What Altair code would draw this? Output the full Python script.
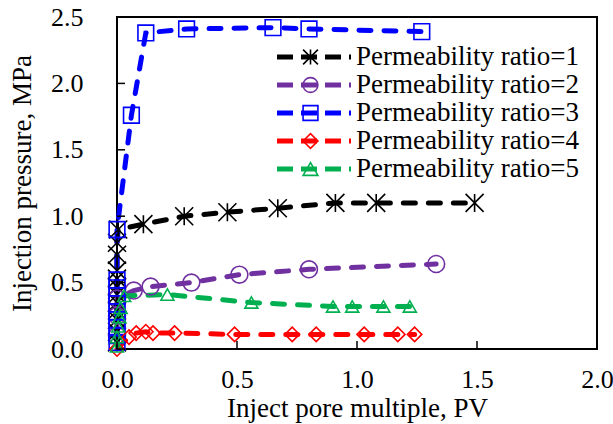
import altair as alt
import pandas as pd

FONT = "Liberation Serif"

series_names = [
    "Permeability ratio=1",
    "Permeability ratio=2",
    "Permeability ratio=3",
    "Permeability ratio=4",
    "Permeability ratio=5",
]
series_colors = ["#000000", "#7030A0", "#0000FF", "#FF0000", "#00B050"]

# injected pore volumes (PV) and injection pressures (MPa) for each ratio
pv_1 = [0.0, 0.0, 0.0, 0.0, 0.0, 0.0, 0.0, 0.0, 0.0, 0.0, 0.0, 0.005, 0.11, 0.28, 0.46, 0.67, 0.91, 1.08, 1.49]
p_1 = [0.05, 0.13, 0.22, 0.29, 0.35, 0.41, 0.47, 0.53, 0.59, 0.71, 0.80, 0.90, 0.94, 1.00, 1.03, 1.06, 1.10, 1.10, 1.10]

pv_2 = [0.0, 0.0, 0.0, 0.07, 0.14, 0.31, 0.51, 0.80, 1.33]
p_2 = [0.10, 0.25, 0.38, 0.44, 0.47, 0.50, 0.56, 0.60, 0.64]

pv_3 = [0.0, 0.0, 0.0, 0.0, 0.0, 0.0, 0.0, 0.0, 0.0, 0.0, 0.06, 0.12, 0.29, 0.65, 0.80, 1.27]
p_3 = [0.05, 0.10, 0.16, 0.22, 0.28, 0.34, 0.40, 0.46, 0.52, 0.90, 1.76, 2.38, 2.41, 2.42, 2.41, 2.39]

pv_4 = [0.0, 0.05, 0.08, 0.12, 0.15, 0.24, 0.49, 0.73, 0.83, 1.03, 1.17, 1.24]
p_4 = [0.0, 0.09, 0.12, 0.13, 0.12, 0.12, 0.11, 0.11, 0.11, 0.11, 0.11, 0.11]

pv_5 = [0.0, 0.0, 0.005, 0.01, 0.015, 0.03, 0.21, 0.56, 0.90, 0.98, 1.11, 1.22]
p_5 = [0.02, 0.09, 0.17, 0.24, 0.31, 0.40, 0.41, 0.35, 0.32, 0.32, 0.32, 0.32]

x_ticks = [0.0, 0.5, 1.0, 1.5, 2.0]
y_ticks = [0.0, 0.5, 1.0, 1.5, 2.0, 2.5]

rows = []
for name, xs, ys in zip(series_names, [pv_1, pv_2, pv_3, pv_4, pv_5], [p_1, p_2, p_3, p_4, p_5]):
    for i, (xv, yv) in enumerate(zip(xs, ys)):
        rows.append({"series": name, "idx": i, "pv": xv, "p": yv})
df = pd.DataFrame(rows)

asterisk = "M0,-1L0,1M-1,-1L1,1M-1,1L1,-1"
marker_shapes = [asterisk, "circle", "square", "diamond", "triangle-up"]
marker_sizes = [324, 169, 169, 169, 289]

W, H = 480, 332

x_scale = alt.Scale(domain=[0, 2], nice=False, zero=False)
y_scale = alt.Scale(domain=[0, 2.5], nice=False, zero=False)
color_scale = alt.Scale(domain=series_names, range=series_colors)

x_axis = alt.Axis(
    values=x_ticks, format=".1f", title="Inject pore multiple, PV",
    ticks=False, tickSize=0, domain=False, grid=False, labelFlush=False,
    labelFont=FONT, labelFontSize=26, labelColor="black", labelPadding=17,
    titleFont=FONT, titleFontSize=27, titleFontWeight="normal", titleColor="black",
    titlePadding=3,
)
y_axis = alt.Axis(
    values=y_ticks, format=".1f", title="Injection pressure, MPa",
    ticks=False, tickSize=0, domain=False, grid=False, labelFlush=False,
    labelFont=FONT, labelFontSize=26, labelColor="black", labelPadding=34,
    titleFont=FONT, titleFontSize=27, titleFontWeight="normal", titleColor="black",
    titlePadding=14,
)

X = alt.X("pv:Q", scale=x_scale, axis=x_axis)
Y = alt.Y("p:Q", scale=y_scale, axis=y_axis)

# dashed-line part of the legend carries the labels
line_legend = alt.Legend(
    title=None, orient="none", legendX=157.5, legendY=26, padding=0,
    symbolType="stroke", symbolSize=5476, symbolStrokeWidth=5, symbolDash=[16, 8],
    labelFont=FONT, labelFontSize=27, labelColor="black", labelOffset=2.5,
    labelLimit=400, clipHeight=28, rowPadding=0,
)
# marker part of the legend, drawn over the middle of each dashed line
point_legend = alt.Legend(
    title=None, orient="none", legendX=180, legendY=26, padding=0,
    symbolSize=220, symbolStrokeWidth=1.6, symbolFillColor="white",
    labelExpr="''", labelFontSize=27, labelOffset=0,
    clipHeight=28, rowPadding=0,
)

lines = alt.Chart(df).mark_line(strokeWidth=5, strokeDash=[12, 13], strokeCap="round").encode(
    x=X, y=Y,
    color=alt.Color("series:N", scale=color_scale, legend=line_legend),
    detail="series:N",
    order=alt.Order("idx:Q"),
)

points = alt.Chart(df).mark_point(filled=False, strokeWidth=1.6, opacity=1).encode(
    x=X, y=Y,
    color=alt.Color("series:N", scale=color_scale, legend=point_legend),
    shape=alt.Shape("series:N", scale=alt.Scale(domain=series_names, range=marker_shapes), legend=point_legend),
    size=alt.Size("series:N", scale=alt.Scale(domain=series_names, range=marker_sizes), legend=None),
)

# inward tick marks
xtick_df = pd.DataFrame({"pv": x_ticks})
ytick_df = pd.DataFrame({"p": y_ticks})
xticks = alt.Chart(xtick_df).mark_rule(color="black", strokeWidth=1.5).encode(
    x=X, y=alt.value(H), y2=alt.value(H - 8)
)
yticks = alt.Chart(ytick_df).mark_rule(color="black", strokeWidth=1.5).encode(
    y=Y, x=alt.value(0), x2=alt.value(8)
)

chart = (
    alt.layer(lines, points, xticks, yticks)
    .resolve_legend(color="independent", shape="independent")
    .properties(
        width=W, height=H,
        autosize=alt.AutoSizeParams(type="none"),
        padding={"left": 117, "top": 17, "right": 16, "bottom": 75},
        background="white",
    )
    .configure_view(stroke="black", strokeWidth=2)
)

chart.save("out.html", embed_options={"renderer": "svg", "actions": False})
